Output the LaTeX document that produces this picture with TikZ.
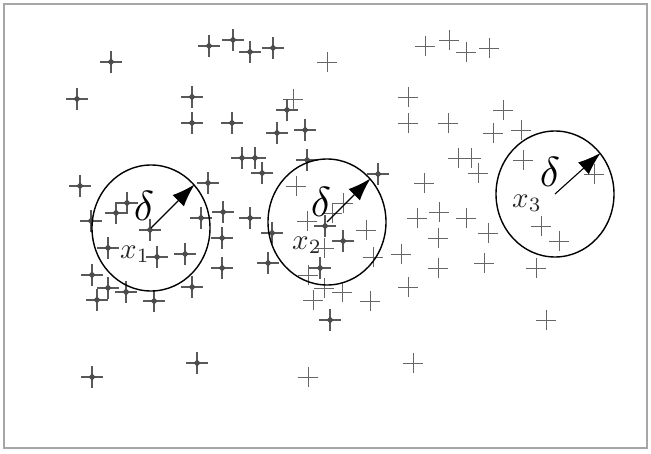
\documentclass[tikz,border=0pt]{standalone}
\usetikzlibrary{shapes.geometric, arrows.meta, positioning}
\newcommand{\biglbl}[2]{\scalebox{#1}{$#2$}}

\begin{document}
\begin{tikzpicture}[x=1pt, y=-1pt,
          frame/.style={draw=black!35, line width=2.5pt},
          starline/.style={draw=black!65, line width=1.3pt},
          stardot/.style={fill=black!70},
          plusline/.style={draw=black!60, line width=0.9pt},
          zone/.style={ellipse, draw=black, line width=1.4pt, minimum width=118pt, minimum height=126pt, inner sep=0pt},
          radius arrow/.style={-{Latex[length=23pt, width=16pt]}, line width=1.1pt},
          deltalbl/.style={inner sep=0pt},
          xlbl/.style={text=black!85, inner sep=0pt}]

        \useasboundingbox (0,0) rectangle (651,454);
        \draw [frame] (4,4) rectangle (647,448);

        % dark points, and the same points shifted right in light grey
        \foreach \px/\py in {111/62, 77/99, 209/46, 233/40, 250/52, 273/48, 192/97, 192/123,
                             287/110, 232/123, 277/133, 305/130, 242/158, 255/158, 262/173, 307/160,
                             80/186, 127/203, 116/213, 91/221, 150/230, 208/183, 201/218, 108/248,
                             157/257, 185/254, 92/275, 108/288, 97/300, 126/292, 154/301, 192/287,
                             223/212, 250/218, 222/238, 272/233, 222/268, 268/263, 378/174, 325/226,
                             343/241, 320/268, 330/320, 92/377, 197/363} {
          \draw [starline] (\px-11,\py) -- (\px+11,\py) (\px,\py-11) -- (\px,\py+11);
          \fill [stardot] (\px,\py) +(-3.5,0) -- +(0,-3.5) -- +(3.5,0) -- +(0,3.5) -- cycle;
          \draw [plusline] (\px+206,\py) -- (\px+226,\py) (\px+216,\py-10) -- (\px+216,\py+10);
        }

        \node [zone] (c1) at (151,228) {};
        \node [zone] (c2) at (327,222) {};
        \node [zone] (c3) at (555,194) {};

        \draw [radius arrow] (c1.center) -- (c1.45);
        \draw [radius arrow] (c2.center) -- (c2.45);
        \draw [radius arrow] (c3.center) -- (c3.42);

        \node [deltalbl] (d1) at (144,206) {\biglbl{4.2}{\delta}};
        \node [deltalbl] (d2) at (321,202) {\biglbl{4.2}{\delta}};
        \node [deltalbl] (d3) at (550,172) {\biglbl{4.2}{\delta}};

        \node [xlbl] (x1) at (135,254) {\biglbl{2.9}{x_1}};
        \node [xlbl] (x2) at (307,245) {\biglbl{2.9}{x_2}};
        \node [xlbl] (x3) at (527,203) {\biglbl{2.9}{x_3}};
      \end{tikzpicture}
\end{document}
